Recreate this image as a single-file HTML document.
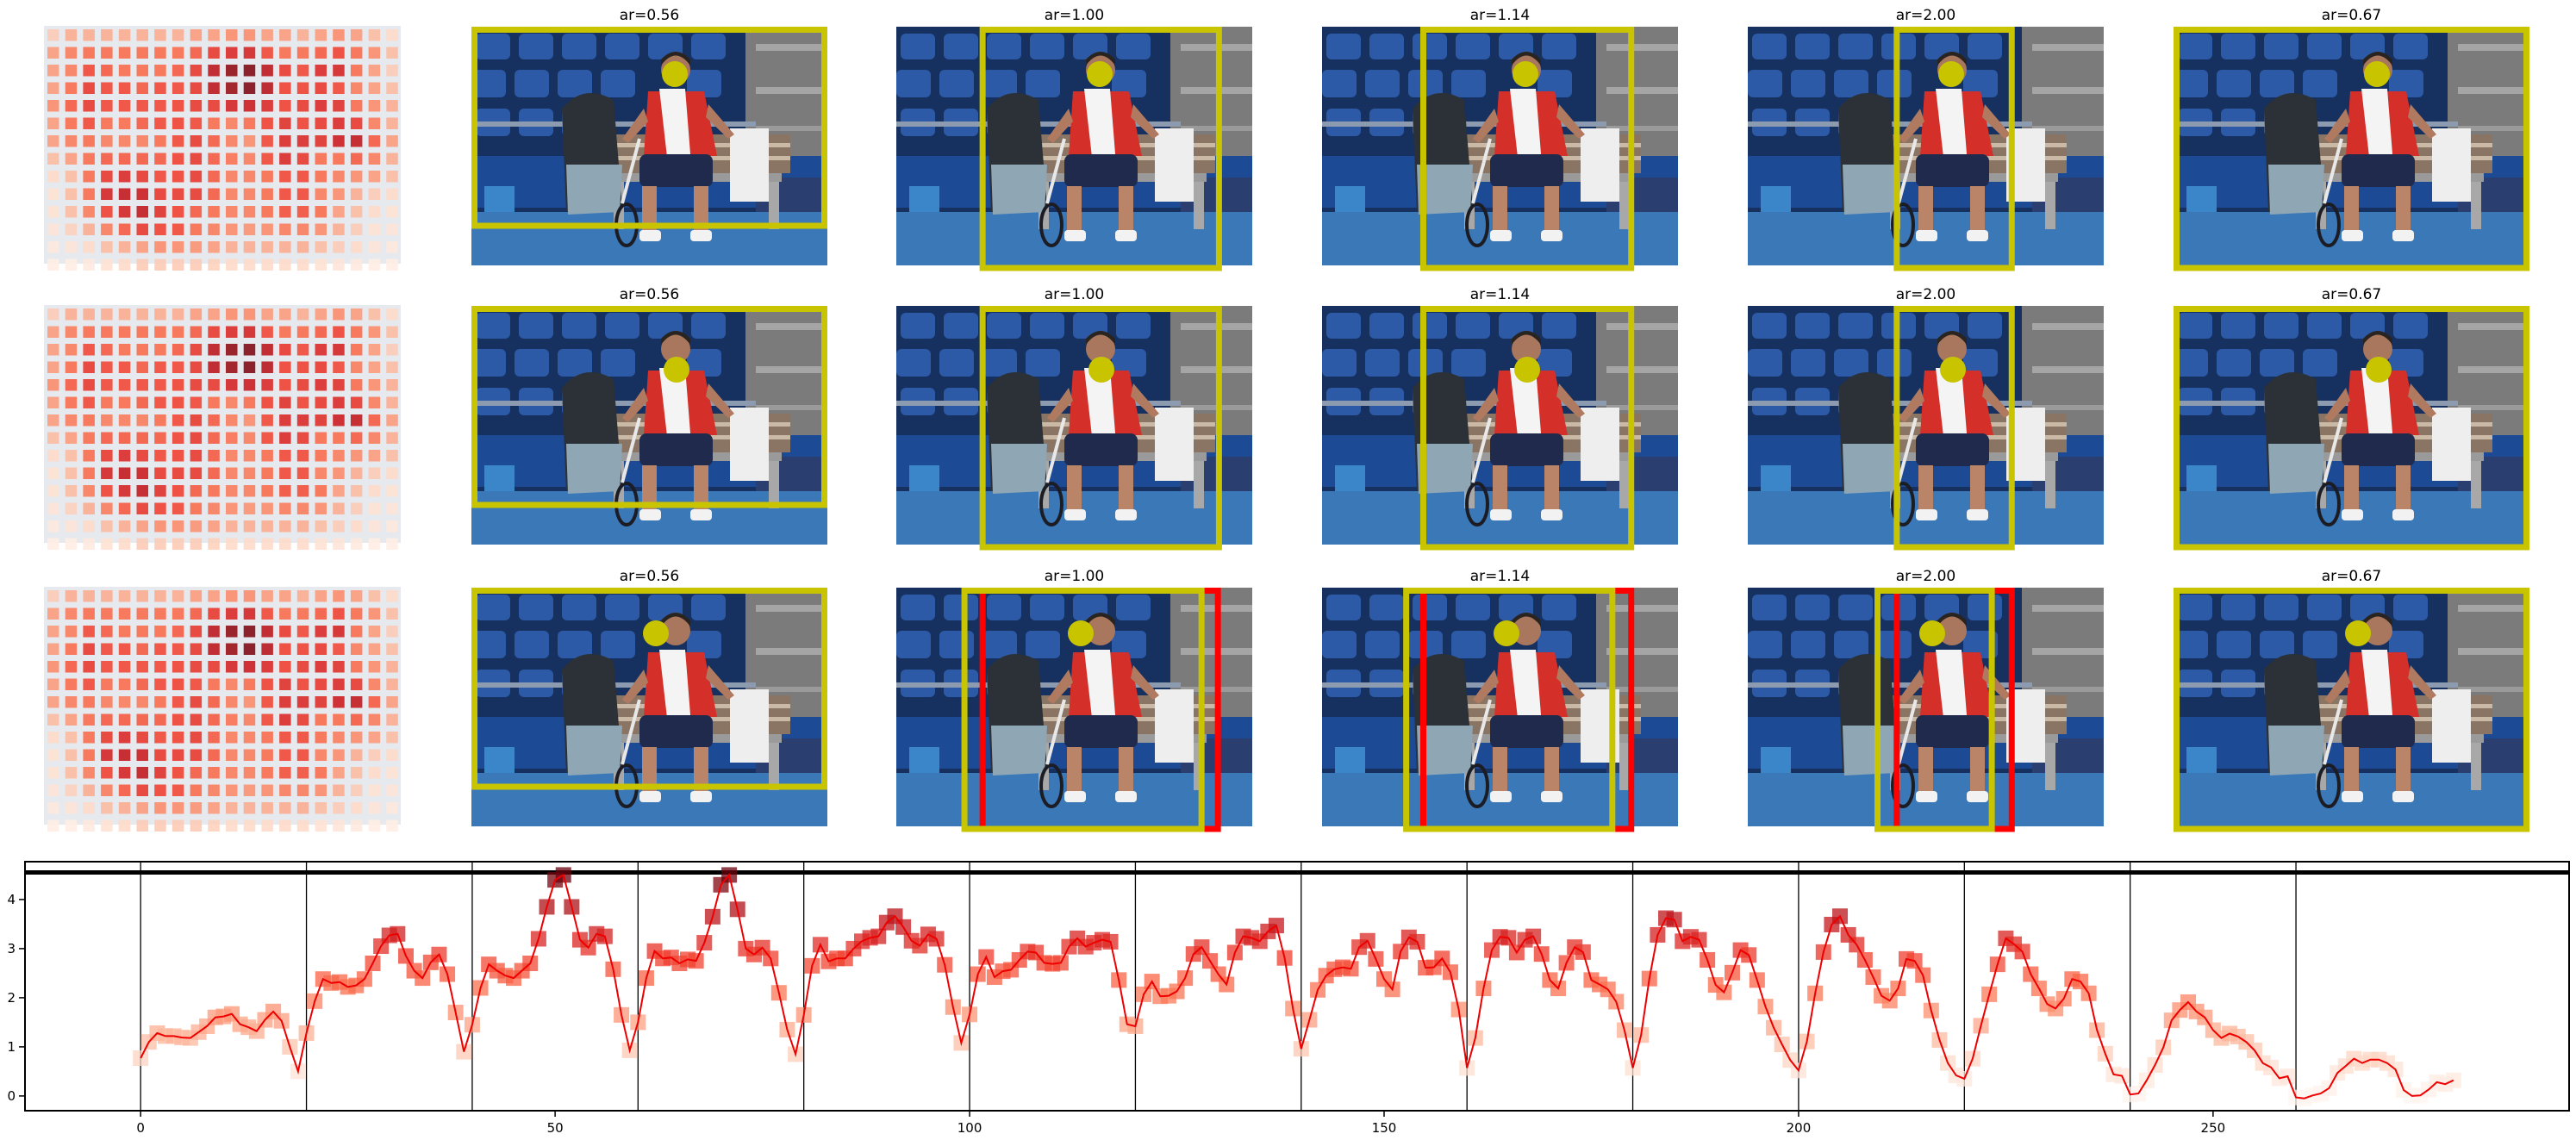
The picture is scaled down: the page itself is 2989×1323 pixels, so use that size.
<!DOCTYPE html>
<html><head><meta charset="utf-8"><style>
html,body{margin:0;padding:0;background:#fff;}
svg{display:block;font-family:"DejaVu Sans","Liberation Sans",sans-serif;}
</style></head><body>
<svg id="root" width="2989" height="1323" viewBox="0 0 2989 1323" xmlns="http://www.w3.org/2000/svg">
<defs>
<symbol id="photo" viewBox="0 0 413 277" overflow="hidden">
  <rect x="0" y="0" width="413" height="277" fill="#16305f"/>
  <g fill="#2c5aa6">
    <rect x="5" y="8" width="40" height="30" rx="6"/><rect x="55" y="8" width="40" height="30" rx="6"/><rect x="105" y="8" width="40" height="30" rx="6"/><rect x="155" y="8" width="40" height="30" rx="6"/><rect x="205" y="8" width="40" height="30" rx="6"/><rect x="255" y="8" width="40" height="30" rx="6"/>
    <rect x="0" y="50" width="40" height="32" rx="6"/><rect x="50" y="50" width="40" height="32" rx="6"/><rect x="100" y="50" width="40" height="32" rx="6"/><rect x="150" y="50" width="40" height="32" rx="6"/><rect x="250" y="50" width="40" height="32" rx="6"/>
    <rect x="5" y="95" width="40" height="32" rx="6"/><rect x="55" y="95" width="40" height="32" rx="6"/><rect x="105" y="95" width="40" height="32" rx="6"/>
  </g>
  <rect x="318" y="0" width="95" height="180" fill="#7b7b7b"/>
  <rect x="330" y="20" width="83" height="8" fill="#a5a5a5"/><rect x="330" y="70" width="83" height="8" fill="#a5a5a5"/><rect x="330" y="115" width="83" height="6" fill="#9a9a9a"/>
  <rect x="0" y="110" width="330" height="6" fill="#8c9bb0"/>
  <rect x="0" y="150" width="413" height="60" fill="#1d4a94"/>
  <rect x="15" y="185" width="35" height="45" fill="#3b86c8"/>
  <rect x="0" y="215" width="413" height="62" fill="#3b78b8"/>
  <rect x="330" y="175" width="83" height="40" fill="#2a3e70"/>
  <rect x="150" y="125" width="220" height="45" fill="#8a7565"/>
  <rect x="150" y="135" width="220" height="5" fill="#c9b9a5"/><rect x="150" y="150" width="220" height="5" fill="#c9b9a5"/>
  <rect x="160" y="170" width="200" height="10" fill="#9a9a9a"/>
  <rect x="165" y="180" width="12" height="55" fill="#a8a8a8"/><rect x="345" y="180" width="12" height="55" fill="#a8a8a8"/>
  <path d="M105 95 Q130 65 165 85 L175 210 L110 215 Z" fill="#2b3136"/>
  <path d="M110 160 L175 160 L172 215 L112 218 Z" fill="#8fa6b5"/>
  <rect x="300" y="118" width="45" height="85" fill="#eeeeee"/>
  <path d="M205 75 L270 75 L285 150 L200 150 Z" fill="#d42f29"/>
  <path d="M218 72 L248 72 L255 160 L228 160 Z" fill="#f4f4f4"/>
  <path d="M200 95 L175 130 L182 135 L205 110 Z" fill="#b07a60"/>
  <path d="M275 90 L305 125 L298 130 L272 105 Z" fill="#b07a60"/>
  <circle cx="237" cy="50" r="17" fill="#a8775e"/>
  <path d="M220 45 Q237 22 254 45 L254 38 Q237 20 220 38 Z" fill="#2a2420"/>
  <rect x="195" y="148" width="85" height="38" rx="8" fill="#1f2a4d"/>
  <rect x="198" y="185" width="17" height="55" fill="#b98468"/><rect x="258" y="185" width="17" height="55" fill="#b98468"/>
  <rect x="195" y="236" width="25" height="13" rx="4" fill="#f2f2f2"/><rect x="254" y="236" width="25" height="13" rx="4" fill="#f2f2f2"/>
  <ellipse cx="180" cy="230" rx="12" ry="24" fill="none" stroke="#1c1c24" stroke-width="4"/>
  <line x1="175" y1="205" x2="195" y2="130" stroke="#e8e8e8" stroke-width="4"/>
</symbol>
</defs>
<g id="heatmaps"></g>
<g id="photos"></g>
<g id="chart"></g>
</svg>
<script>
// ---------- line chart data ----------
const values = [
0.77,1.1,1.28,1.22,1.22,1.19,1.18,1.3,1.42,1.6,1.62,1.67,1.46,1.4,1.32,1.55,1.72,1.53,1.0,0.5,
1.28,1.93,2.38,2.3,2.32,2.22,2.25,2.38,2.7,3.05,3.27,3.3,2.85,2.55,2.4,2.72,2.88,2.48,1.7,0.9,
1.45,2.2,2.68,2.55,2.45,2.4,2.55,2.7,3.2,3.85,4.4,4.5,3.85,3.18,3.02,3.3,3.25,2.58,1.65,0.93,
1.5,2.4,2.95,2.8,2.82,2.7,2.78,2.75,3.12,3.65,4.3,4.5,3.8,3.0,2.88,3.02,2.8,2.1,1.35,0.85,
1.65,2.65,3.08,2.74,2.8,2.8,3.0,3.15,3.22,3.25,3.53,3.66,3.44,3.16,3.06,3.29,3.2,2.67,1.81,1.08,
1.66,2.48,2.83,2.42,2.54,2.57,2.77,2.94,2.92,2.71,2.69,2.71,3.04,3.21,3.04,3.12,3.18,3.14,2.36,1.46,
1.42,2.07,2.33,2.03,2.04,2.13,2.4,2.89,3.03,2.75,2.48,2.27,2.92,3.25,3.22,3.15,3.35,3.47,2.81,1.78,
0.96,1.55,2.16,2.45,2.58,2.62,2.59,3.03,3.16,2.79,2.38,2.17,2.94,3.23,3.14,2.61,2.62,2.8,2.52,1.76,
0.57,1.18,2.19,2.97,3.24,3.22,2.92,3.18,3.25,2.89,2.36,2.19,2.71,3.03,2.93,2.36,2.27,2.17,1.92,1.34,
0.57,1.24,2.39,3.28,3.62,3.59,3.15,3.24,3.18,2.77,2.26,2.11,2.51,2.97,2.87,2.36,1.82,1.39,1.05,0.73,
0.52,1.11,2.09,2.93,3.49,3.66,3.28,3.08,2.77,2.42,2.04,1.94,2.19,2.79,2.75,2.46,1.74,1.14,0.67,0.42,
0.35,0.76,1.43,2.07,2.68,3.21,3.09,2.94,2.48,2.19,1.87,1.78,1.98,2.38,2.33,2.09,1.34,0.86,0.44,0.41,
0.03,0.05,0.32,0.63,0.99,1.54,1.75,1.91,1.72,1.6,1.34,1.18,1.27,1.21,1.1,0.93,0.67,0.58,0.36,0.4,
-0.03,-0.05,0.01,0.05,0.16,0.47,0.61,0.76,0.67,0.74,0.74,0.67,0.54,0.12,0.0,0.01,0.13,0.28,0.24,0.32
];
const separators = [0,20,40,60,80,100,120,140,160,180,200,220,240,260];
const xTicks = [0,50,100,150,200,250];
const yTicks = [0,1,2,3,4];
const threshold = [4.55];

// ---------- heatmap data ----------
const heat = [
[0.2,0.3,0.3,0.3,0.3,0.3,0.3,0.3,0.35,0.35,0.4,0.4,0.35,0.35,0.3,0.35,0.4,0.35,0.25,0.15],
[0.35,0.45,0.5,0.5,0.5,0.5,0.5,0.5,0.55,0.65,0.7,0.72,0.6,0.5,0.5,0.55,0.62,0.5,0.4,0.25],
[0.35,0.45,0.6,0.55,0.5,0.5,0.5,0.55,0.65,0.8,0.92,0.95,0.8,0.65,0.6,0.7,0.72,0.5,0.35,0.2],
[0.35,0.5,0.65,0.6,0.6,0.55,0.6,0.6,0.65,0.8,0.9,0.95,0.82,0.62,0.62,0.65,0.6,0.45,0.35,0.25],
[0.4,0.55,0.65,0.6,0.6,0.6,0.6,0.62,0.65,0.65,0.72,0.75,0.7,0.62,0.65,0.7,0.68,0.5,0.4,0.3],
[0.35,0.5,0.6,0.5,0.5,0.55,0.6,0.62,0.6,0.5,0.45,0.5,0.62,0.68,0.62,0.65,0.7,0.65,0.45,0.3],
[0.35,0.45,0.5,0.45,0.45,0.45,0.5,0.6,0.65,0.55,0.45,0.4,0.6,0.7,0.7,0.68,0.75,0.78,0.55,0.35],
[0.25,0.35,0.5,0.55,0.55,0.55,0.55,0.62,0.65,0.55,0.48,0.45,0.6,0.7,0.65,0.5,0.5,0.55,0.45,0.3],
[0.15,0.25,0.5,0.65,0.7,0.65,0.6,0.62,0.65,0.55,0.45,0.45,0.5,0.6,0.6,0.5,0.45,0.4,0.35,0.25],
[0.12,0.25,0.5,0.72,0.78,0.75,0.65,0.65,0.65,0.55,0.45,0.45,0.5,0.6,0.6,0.45,0.4,0.3,0.2,0.15],
[0.12,0.25,0.45,0.62,0.72,0.78,0.68,0.62,0.55,0.5,0.45,0.45,0.5,0.58,0.58,0.5,0.35,0.25,0.15,0.12],
[0.1,0.18,0.3,0.45,0.55,0.65,0.62,0.6,0.5,0.45,0.4,0.38,0.4,0.45,0.45,0.4,0.3,0.2,0.12,0.1],
[0.08,0.1,0.15,0.25,0.3,0.35,0.4,0.4,0.38,0.35,0.3,0.3,0.3,0.3,0.3,0.25,0.2,0.15,0.1,0.08],
[0.05,0.05,0.08,0.12,0.15,0.2,0.2,0.2,0.2,0.18,0.15,0.15,0.15,0.15,0.15,0.12,0.1,0.08,0.05,0.05]
];
const titles = ["ar=0.56","ar=1.00","ar=1.14","ar=2.00","ar=0.67"];

const NS = "http://www.w3.org/2000/svg";
function mk(tag, attrs, parent){const e=document.createElementNS(NS,tag);for(const k in attrs)e.setAttribute(k,attrs[k]);parent.appendChild(e);return e;}

const stops=[[255,245,240],[254,224,210],[252,187,161],[252,146,114],[251,106,74],[239,59,44],[203,24,29],[165,15,21],[103,0,13]];
function reds(t){t=Math.max(0,Math.min(1,t));const p=t*8;const i=Math.min(7,Math.floor(p));const f=p-i;const a=stops[i],b=stops[i+1];
  return "rgb("+[0,1,2].map(k=>Math.round(a[k]+(b[k]-a[k])*f)).join(",")+")";}

// ---------- heatmaps ----------
const rowTops=[31,355,682];
const hg=document.getElementById('heatmaps');
rowTops.forEach((top,r)=>{
  const g=mk('g',{},hg);
  
  
  const bg=mk('rect',{x:51,y:top-1,width:414,height:276,fill:'#e6eaef'},g);
  
  
  heat.forEach((row,i)=>row.forEach((v,j)=>{
    const c=mk('rect',{x:(55+j*20.7).toFixed(1),y:(top+3+i*20.5).toFixed(1),width:13.5,height:13.5,fill:reds(v),'fill-opacity':0.88},g);
    
    
  }));
});

// ---------- photo panels ----------
const colLefts=[547,1040,1534,2028,2522];
const W=413,H=277;
const yBoxes=[[0,1],[0.234,0.915],[0.276,0.877],[0.41,0.75],[0,1]];
const yBoxes3=[[0,1],[0.183,0.866],[0.228,0.824],[0.356,0.694],[0,1]];
const rBoxes3=[null,[0.234,0.912],[0.276,0.877],[0.41,0.75],null];
const discs=[[236,55],[238,74],[214,53]];
const pg=document.getElementById('photos');
rowTops.forEach((top,r)=>{
  colLefts.forEach((left,c)=>{
    const g=mk('g',{transform:'translate('+left+','+top+')'},pg);
    
    
    const u=mk('use',{href:'#photo',width:W,height:H},g);
    
    
    const t=mk('text',{x:W/2,y:-8,'text-anchor':'middle','font-size':17,fill:'#000'},g);
    t.textContent=titles[c];
    
    
    const d=mk('circle',{cx:discs[r][0],cy:discs[r][1],r:15,fill:'#c8c400'},g);
    
    
    const yb=(r===2?yBoxes3:yBoxes)[c];
    const bottom = c===0 ? 231 : 280;
    const x0=yb[0]*W+3.5, x1=yb[1]*W-3.5;
    if(r===2 && rBoxes3[c]){
      const rb=rBoxes3[c];
      const rr=mk('rect',{x:rb[0]*W+3.5,y:3.5,width:(rb[1]-rb[0])*W-7,height:280-3.5,fill:'none',stroke:'#ff0000','stroke-width':7},g);
      
      
    }
    const yr=mk('rect',{x:x0,y:3.5,width:x1-x0,height:bottom-3.5,fill:'none',stroke:'#c8c400','stroke-width':7},g);
    
    
  });
});

// ---------- line chart ----------
const L=29,R=2981,T=1000,B=1289,xmin=-13.95,xmax=292.95,ymin=-0.3,ymax=4.77;
const xS=v=>L+(v-xmin)/(xmax-xmin)*(R-L);
const yS=v=>B-(v-ymin)/(ymax-ymin)*(B-T);
const cg=document.getElementById('chart');
const clip=mk('clipPath',{id:'plotclip'},cg);
mk('rect',{x:L,y:T,width:R-L,height:B-T},clip);
const plot=mk('g',{'clip-path':'url(#plotclip)'},cg);


separators.forEach(s=>{
  const l=mk('line',{x1:xS(s),x2:xS(s),y1:T,y2:B,stroke:'#000','stroke-width':1.3},plot);
  
  
});
threshold.forEach(v=>{
  const l=mk('line',{x1:L,x2:R,y1:yS(v),y2:yS(v),stroke:'#000','stroke-width':5},plot);
  
  
});
const ms=18;
values.forEach((v,i)=>{
  const m=mk('rect',{x:xS(i)-ms/2,y:yS(v)-ms/2,width:ms,height:ms,fill:reds(v/4.55),'fill-opacity':0.75},plot);
  
  
});
const pts=values.map((v,i)=>xS(i).toFixed(1)+','+yS(v).toFixed(1)).join(' ');
const pl=mk('polyline',{points:pts,fill:'none',stroke:'#ee0000','stroke-width':2},plot);


const frame=mk('rect',{x:L,y:T,width:R-L,height:B-T,fill:'none',stroke:'#000','stroke-width':2},cg);


xTicks.forEach(t=>{
  const tk=mk('line',{x1:xS(t),x2:xS(t),y1:B,y2:B+7,stroke:'#000','stroke-width':1.5},cg);
  
  
  const lb=mk('text',{x:xS(t),y:B+25,'text-anchor':'middle','font-size':15,fill:'#000'},cg);
  lb.textContent=String(t);
  
  
});
yTicks.forEach(t=>{
  const tk=mk('line',{x1:L-7,x2:L,y1:yS(t),y2:yS(t),stroke:'#000','stroke-width':1.5},cg);
  
  
  const lb=mk('text',{x:L-11,y:yS(t)+5,'text-anchor':'end','font-size':15,fill:'#000'},cg);
  lb.textContent=String(t);
  
  
});
</script>
</body></html>
